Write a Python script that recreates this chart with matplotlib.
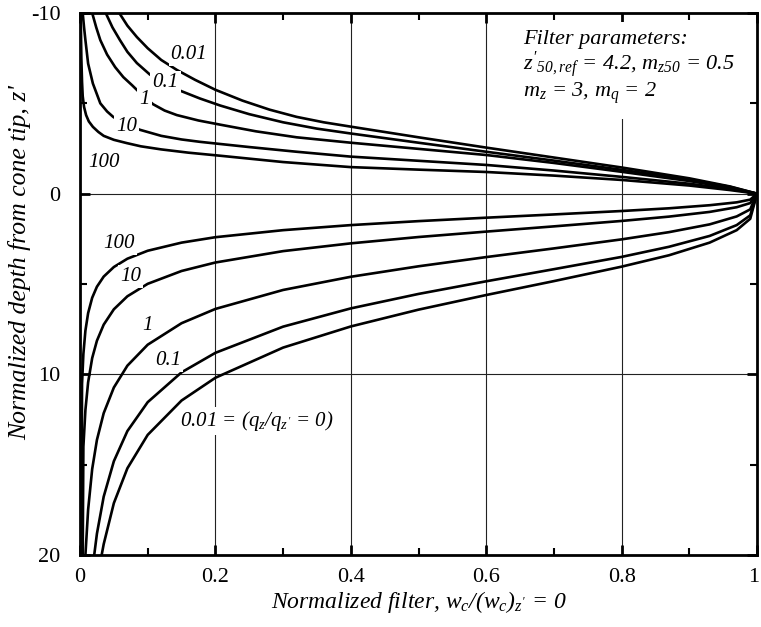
import matplotlib
matplotlib.use("Agg")
import matplotlib.pyplot as plt
import matplotlib.transforms as mtransforms
from matplotlib.ticker import MultipleLocator

plt.rcParams['font.family'] = ['Liberation Serif', 'DejaVu Serif']
plt.rcParams['mathtext.fontset'] = 'custom'
plt.rcParams['mathtext.rm'] = 'Liberation Serif:italic'
plt.rcParams['mathtext.it'] = 'Liberation Serif:italic'

# curves above the cone tip (z' < 0), labelled by q_z/q_z'
up_labels = ['0.01', '0.1', '1', '10', '100']
up_x_001 = [0.058, 0.070, 0.084, 0.100, 0.120, 0.143, 0.170, 0.200, 0.240, 0.280, 0.320, 0.360, 0.410, 0.5, 0.6, 0.7, 0.8, 0.9, 0.96, 1.0]
up_z_001 = [-10, -9.3, -8.67, -8.05, -7.4, -6.85, -6.3, -5.75, -5.15, -4.65, -4.25, -3.95, -3.65, -3.12, -2.55, -2.0, -1.45, -0.85, -0.4, 0]
up_x_01 = [0.038, 0.048, 0.059, 0.070, 0.084, 0.103, 0.125, 0.150, 0.177, 0.207, 0.25, 0.30, 0.35, 0.4, 0.5, 0.6, 0.7, 0.8, 0.9, 0.96, 1.0]
up_z_01 = [-10, -9.2, -8.5, -7.85, -7.23, -6.6, -6.1, -5.67, -5.27, -4.88, -4.4, -3.95, -3.6, -3.33, -2.82, -2.32, -1.83, -1.32, -0.78, -0.38, 0]
up_x_1 = [0.018, 0.024, 0.030, 0.040, 0.052, 0.064, 0.077, 0.092, 0.108, 0.125, 0.143, 0.175, 0.207, 0.26, 0.32, 0.4, 0.5, 0.6, 0.7, 0.8, 0.9, 0.96, 1.0]
up_z_1 = [-10, -9.2, -8.5, -7.7, -7.0, -6.45, -6.0, -5.45, -4.95, -4.6, -4.35, -4.05, -3.82, -3.45, -3.12, -2.82, -2.48, -2.14, -1.7, -1.21, -0.7, -0.33, 0]
up_x_10 = [0.004, 0.006, 0.008, 0.012, 0.019, 0.03, 0.04, 0.049, 0.06, 0.07, 0.089, 0.12, 0.15, 0.177, 0.207, 0.25, 0.32, 0.4, 0.5, 0.6, 0.7, 0.8, 0.9, 0.96, 1.0]
up_z_10 = [-10, -9.2, -8.5, -7.2, -6.1, -5.0, -4.55, -4.25, -4.0, -3.8, -3.53, -3.2, -3.0, -2.87, -2.75, -2.58, -2.32, -2.05, -1.82, -1.59, -1.28, -0.93, -0.55, -0.26, 0]
up_x_100 = [0.001, 0.002, 0.003, 0.004, 0.006, 0.009, 0.013, 0.019, 0.027, 0.035, 0.05, 0.069, 0.09, 0.12, 0.16, 0.207, 0.3, 0.4, 0.5, 0.6, 0.7, 0.8, 0.9, 0.96, 1.0]
up_z_100 = [-10, -7.5, -6.2, -5.4, -4.8, -4.35, -4.0, -3.7, -3.42, -3.2, -2.98, -2.8, -2.62, -2.45, -2.27, -2.1, -1.75, -1.47, -1.33, -1.2, -1.0, -0.76, -0.45, -0.2, 0]

# curves below the cone tip (z' > 0)
lo_x_001 = [1.0, 0.99, 0.97, 0.93, 0.87, 0.8, 0.7, 0.6, 0.5, 0.4, 0.3, 0.2, 0.15, 0.1, 0.07, 0.05, 0.035, 0.032]
lo_z_001 = [0, 1.39, 2.02, 2.71, 3.41, 4.04, 4.84, 5.61, 6.42, 7.35, 8.52, 10.19, 11.45, 13.35, 15.20, 17.13, 19.40, 20]
lo_x_01 = [1.0, 0.99, 0.97, 0.93, 0.87, 0.8, 0.7, 0.6, 0.5, 0.4, 0.3, 0.2, 0.15, 0.1, 0.07, 0.05, 0.035, 0.025, 0.021]
lo_z_01 = [0, 1.20, 1.74, 2.34, 2.94, 3.50, 4.18, 4.85, 5.55, 6.35, 7.36, 8.81, 9.89, 11.54, 13.14, 14.81, 16.77, 18.82, 20]
lo_x_1 = [1.0, 0.99, 0.97, 0.93, 0.87, 0.8, 0.7, 0.6, 0.5, 0.4, 0.3, 0.2, 0.15, 0.1, 0.07, 0.05, 0.035, 0.025, 0.018, 0.012, 0.008]
lo_z_1 = [0, 0.87, 1.26, 1.70, 2.13, 2.53, 3.03, 3.51, 4.02, 4.60, 5.33, 6.38, 7.17, 8.36, 9.52, 10.73, 12.15, 13.63, 15.24, 17.49, 20]
lo_x_10 = [1.0, 0.99, 0.97, 0.93, 0.87, 0.8, 0.7, 0.6, 0.5, 0.4, 0.3, 0.2, 0.15, 0.1, 0.07, 0.05, 0.035, 0.025, 0.018, 0.012, 0.008, 0.005, 0.004]
lo_z_10 = [0, 0.52, 0.75, 1.01, 1.27, 1.51, 1.81, 2.10, 2.40, 2.75, 3.18, 3.81, 4.28, 4.99, 5.68, 6.40, 7.25, 8.14, 9.10, 10.44, 11.97, 14.0, 20]
lo_x_100 = [1.0, 0.99, 0.97, 0.93, 0.87, 0.8, 0.7, 0.6, 0.5, 0.4, 0.3, 0.2, 0.15, 0.1, 0.07, 0.05, 0.035, 0.025, 0.018, 0.012, 0.008, 0.005, 0.003, 0.002]
lo_z_100 = [0, 0.33, 0.48, 0.64, 0.81, 0.96, 1.15, 1.33, 1.52, 1.74, 2.02, 2.41, 2.71, 3.16, 3.60, 4.06, 4.59, 5.15, 5.76, 6.61, 7.58, 8.87, 10.53, 20]

x_ticks = [0, 0.2, 0.4, 0.6, 0.8, 1]
x_tick_labels = ['0', '0.2', '0.4', '0.6', '0.8', '1']
z_ticks = [-10, 0, 10, 20]
z_tick_labels = ['-10', '0', '10', '20']

# label anchor points (x, z)
up_label_pos = [(0.161, -7.7), (0.126, -6.15), (0.095, -5.2), (0.069, -3.7), (0.035, -1.75)]
lo_label_text = ['100', '10', '1', '0.1', r"0.01 = ($q_z/q_{z'}$ = 0)"]
lo_label_pos = [(0.058, 2.75), (0.075, 4.6), (0.100, 7.3), (0.130, 9.25), (0.148, 12.6)]

fig = plt.figure(figsize=(7.61, 6.27), dpi=100)
ax = fig.add_axes([80 / 761, 1 - 555 / 627, 677 / 761, 542 / 627])

up_curves = [(up_x_001, up_z_001), (up_x_01, up_z_01), (up_x_1, up_z_1),
             (up_x_10, up_z_10), (up_x_100, up_z_100)]
lo_curves = [(lo_x_001, lo_z_001), (lo_x_01, lo_z_01), (lo_x_1, lo_z_1),
             (lo_x_10, lo_z_10), (lo_x_100, lo_z_100)]
for xs, zs in up_curves + lo_curves:
    ax.plot(xs, zs, color='black', lw=1.9, zorder=3, solid_joinstyle='round')

ax.set_xlim(0, 1)
ax.set_ylim(20, -10)

for gx in [0.2, 0.4, 0.6, 0.8]:
    ax.axvline(gx, color='#222222', lw=0.8, zorder=1)
for gz in [0, 10]:
    ax.axhline(gz, color='#222222', lw=0.8, zorder=1)

ax.set_xticks(x_ticks)
ax.set_xticklabels(x_tick_labels)
ax.set_yticks(z_ticks)
ax.set_yticklabels(z_tick_labels)
ax.xaxis.set_minor_locator(MultipleLocator(0.1))
ax.yaxis.set_minor_locator(MultipleLocator(5))
ax.tick_params(which='both', direction='in', top=True, right=True, labelsize=16, color='black')
ax.tick_params(which='major', length=7, width=2)
ax.tick_params(which='minor', length=5, width=1.5)
ax.tick_params(axis='x', pad=9)
ax.tick_params(axis='y', pad=14)
for sp in ax.spines.values():
    sp.set_linewidth(2)

# keep the "1" at the right edge inside the figure
last = ax.get_xticklabels()[-1]
last.set_transform(last.get_transform() + mtransforms.ScaledTranslation(-3 / 100, 0, fig.dpi_scale_trans))

ax.set_xlabel(r"Normalized filter, $w_c/(w_c)_{z'}$ = 0", fontsize=17, style='italic', labelpad=2)
ax.set_ylabel("Normalized depth from cone tip, z'", fontsize=18.5, style='italic')
ax.yaxis.set_label_coords(-0.072, 0.54)

box = dict(facecolor='white', edgecolor='none', pad=1.5)
for txt, (lx, lz) in zip(up_labels, up_label_pos):
    ax.text(lx, lz, txt, fontsize=15, style='italic', ha='center', va='center', bbox=box, zorder=4)
for txt, (lx, lz) in zip(lo_label_text, lo_label_pos):
    ha = 'left' if txt.startswith('0.01') else 'center'
    ax.text(lx, lz, txt, fontsize=15, style='italic', ha=ha, va='center', bbox=box, zorder=4)

ax.text(0.655, 0.968,
        "Filter parameters:\n$z'_{50,ref}$ = 4.2, $m_{z50}$ = 0.5\n$m_z$ = 3, $m_q$ = 2",
        transform=ax.transAxes, fontsize=16, style='italic', ha='left', va='top',
        linespacing=1.02,
        bbox=dict(facecolor='white', edgecolor='none', pad=9), zorder=2)

fig.savefig('out.png', dpi=100)
